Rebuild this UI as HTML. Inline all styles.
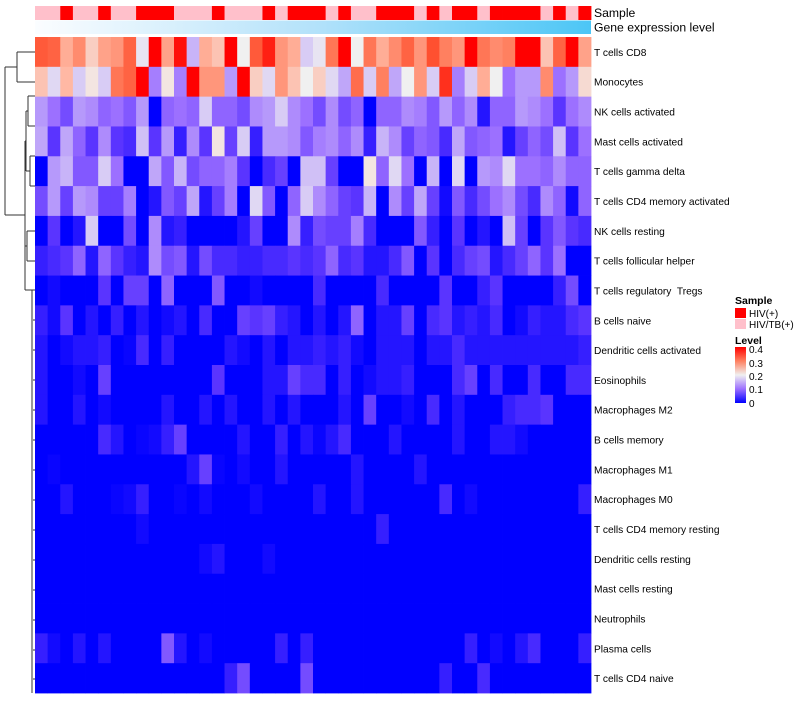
<!DOCTYPE html>
<html><head><meta charset="utf-8"><style>
body{margin:0;background:#fff;font-family:"Liberation Sans",sans-serif;}
svg text{font-family:"Liberation Sans",sans-serif;white-space:pre;}
</style></head><body>
<svg id="chart" width="800" height="700" xmlns="http://www.w3.org/2000/svg">
<defs><linearGradient id="geneGrad" x1="0" x2="1"><stop offset="0" stop-color="#fbfdff"/><stop offset="0.5" stop-color="#b4e2fa"/><stop offset="1" stop-color="#4cc6f6"/></linearGradient>
<linearGradient id="levelGrad" x1="0" y1="1" x2="0" y2="0"><stop offset="0" stop-color="#0000ff"/><stop offset="0.25" stop-color="#9c70ff"/><stop offset="0.5" stop-color="#f0f0f0"/><stop offset="0.75" stop-color="#ff8060"/><stop offset="1" stop-color="#ff0000"/></linearGradient></defs>
<g id="cells"></g>
<g id="anno"></g>
<rect x="35" y="20.5" width="556" height="13.5" fill="url(#geneGrad)"/>
<text x="594" y="17" font-size="12.2">Sample</text>
<text x="594" y="31.5" font-size="12.2">Gene expression level</text>
<g id="labels"></g>
<g stroke="#333" stroke-width="1" fill="none">
<path d="M5,67 V215 M5,67 H17 M17,52 V82 M17,52 H35 M17,82 H35 M5,215 H25"/>
<path d="M28,96 V126 M28,96 H35 M28,126 H35 M26,111 V171 M26,111 H28 M30,156 V186 M30,156 H35 M30,186 H35 M26,171 H30"/>
<path d="M25,141 V246 M25,141 H26 M25,246 H27 M27,231 V261 M27,231 H35 M27,261 H35"/>
<path d="M25,246 V290 M25,290 H32 M32,290 V693 M32,290 H35"/>
<path d="M33,320 H35 M33,350 H35 M33,380 H35 M33,410 H35 M33,440 H35 M33,470 H35 M33,500 H35 M33,530 H35 M33,560 H35 M33,590 H35 M33,620 H35 M33,650 H35 M33,679 H35"/>
</g>
<g>
<text x="735" y="304" font-size="10.5" font-weight="bold">Sample</text>
<rect x="735" y="308" width="11" height="10" fill="#ff0000"/>
<text x="749" y="317" font-size="10">HIV(+)</text>
<rect x="735" y="319" width="11" height="10" fill="#ffc0cb"/>
<text x="749" y="328" font-size="10">HIV/TB(+)</text>
<text x="735" y="344" font-size="10.5" font-weight="bold">Level</text>
<rect x="735" y="347" width="11" height="56" fill="url(#levelGrad)"/>
<g fill="#000" font-size="10">
<text x="749" y="353">0.4</text>
<text x="749" y="367">0.3</text>
<text x="749" y="380">0.2</text>
<text x="749" y="393">0.1</text>
<text x="749" y="407">0</text>
</g>
</g>
</svg>
<script>
const rowNames=["T cells CD8","Monocytes","NK cells activated","Mast cells activated","T cells gamma delta","T cells CD4 memory activated","NK cells resting","T cells follicular helper","T cells regulatory  Tregs","B cells naive","Dendritic cells activated","Eosinophils","Macrophages M2","B cells memory","Macrophages M1","Macrophages M0","T cells CD4 memory resting","Dendritic cells resting","Mast cells resting","Neutrophils","Plasma cells","T cells CD4 naive"];
const sampleGroup="PPRPPRPPRRRPPPRPPPRPRRRPRPPRRRPRPRRPRRRRPRPR".split("");
const z=n=>Array(n).fill(0);
const values=[
[.34,.33,.26,.29,.23,.27,.28,.33,.19,.4,.27,.39,.15,.26,.24,.4,.2,.34,.38,.28,.26,.17,.19,.31,.4,.2,.31,.26,.29,.33,.28,.35,.3,.28,.4,.31,.29,.3,.4,.4,.24,.33,.4,.27],
[.24,.18,.25,.17,.21,.17,.31,.33,.4,.11,.21,.11,.4,.28,.28,.13,.4,.23,.18,.28,.24,.2,.23,.18,.14,.32,.17,.3,.14,.2,.28,.17,.37,.11,.17,.26,.2,.1,.13,.13,.29,.1,.13,.22],
[.13,.1,.07,.13,.12,.09,.1,.08,.13,0,.09,.1,.09,.17,.09,.09,.07,.12,.13,.17,.12,.1,.07,.12,.07,.09,0,.09,.09,.12,.11,.08,.13,.09,.12,.02,.09,.09,.13,.12,.1,.05,.1,.12],
[.14,.05,.14,.09,.05,.12,.05,.04,.16,.05,.13,.03,.12,.05,.21,.06,.17,.03,.13,.13,.12,.08,.11,.12,.09,.12,.03,.15,.12,.06,.09,.08,.04,.14,.08,.09,.1,.02,.06,.09,.07,.16,.05,.1],
[0,.13,.15,.08,.08,.17,.1,0,0,.14,.08,.15,.07,.09,.09,.11,.05,0,.04,.06,0,.16,.16,.06,0,0,.21,.09,.18,.1,0,.15,0,.18,0,.13,.12,.18,.1,.1,.09,.12,.09,.09],
[.07,.13,.06,.13,.12,.06,.06,.11,0,.02,.08,.06,.14,.02,.06,.11,0,.18,.08,0,.09,.17,.12,.09,.06,.05,.15,0,.12,.06,.14,.06,.01,.08,.04,.07,.1,.12,.07,.04,.12,.09,.01,.09],
[0,.05,0,.02,.17,0,0,.07,0,.12,.02,.03,0,0,0,0,.02,.06,0,0,.12,.03,.07,.06,.06,.11,.04,0,0,0,.08,.03,0,.05,0,.02,0,.16,.06,0,.05,.08,.05,.04],
[.03,.04,.05,.09,.02,.09,.05,.03,.02,.12,.07,.08,.02,.07,.04,.04,.03,.03,.04,.04,.05,.04,.05,.09,.04,.05,.02,.02,.04,.08,0,.05,0,.04,.06,.07,.02,.04,.06,.09,.05,.1,0,0],
[0,.01,0,0,0,.05,0,.06,.06,0,.09,0,0,0,.08,0,0,.01,0,0,0,0,.04,0,0,0,0,.04,0,0,0,0,.05,0,0,.03,.05,0,0,0,0,.03,.07,0],
[.03,.01,.05,0,.02,0,.03,0,.02,0,.01,.02,0,.04,0,0,.06,.05,.06,.03,.02,0,.02,0,.02,.09,0,.02,.02,.06,0,.04,.05,.02,.03,.02,.04,0,.01,.03,.02,.02,.04,.05],
[.02,0,.01,.02,.02,.03,0,.005,.04,0,.03,0,0,0,0,.02,.01,0,.02,0,.02,.02,.03,.02,.03,.01,0,.02,.02,.02,0,.02,.02,.04,.02,.02,.02,.02,.02,.02,.02,.02,.02,.03],
[.02,0,0,.01,0,.06,0,0,0,0,0,0,0,0,.05,0,0,0,.02,.02,.06,.04,.04,0,.03,0,.01,.02,.02,.03,0,0,0,.04,.06,0,.04,0,0,.04,0,0,.04,.04],
[.02,0,0,.02,0,.01,0,0,0,0,.02,0,0,.02,0,.02,0,0,.02,0,.02,0,0,0,.02,0,.06,0,0,.01,0,.04,0,.02,0,0,0,.03,.04,.04,.05,0,0,0],
[0,0,0,0,0,.04,.02,0,.005,.01,.03,.06,0,0,0,0,.02,0,0,.03,0,.02,.005,.02,.04,0,0,0,.02,0,0,0,0,.02,0,0,.02,.02,.01,0,0,0,0,0],
[0,.005,0,0,0,0,0,0,0,0,0,0,.02,.06,.005,0,.01,0,0,.02,0,0,0,0,0,.02,0,0,0,0,.02,0,0,0,0,0,0,0,0,0,0,0,0,0],
[0,0,.02,0,0,0,.005,.01,.03,0,0,.005,0,.01,0,0,0,.01,0,0,0,0,.02,0,0,.02,0,0,0,0,0,0,.04,0,.01,0,0,0,0,0,0,0,0,.03],
[0,0,0,0,0,0,0,0,.01,0,0,0,0,0,0,0,0,0,0,0,0,0,0,0,0,0,0,.03,0,0,0,0,0,0,0,0,0,0,0,0,0,0,0,0],
[0,0,0,0,0,0,0,0,0,0,0,0,0,.01,.02,0,0,0,.01,0,0,0,0,0,0,0,0,0,0,0,0,0,0,0,0,0,0,0,0,0,0,0,0,0],
z(44),
z(44),
[.03,.01,0,.02,0,.02,0,0,0,0,.08,.02,0,.01,0,0,0,0,0,.03,0,.03,0,0,0,0,0,0,0,0,0,0,0,0,.03,0,.01,0,.02,.04,0,0,0,.03],
[0,0,0,0,0,0,0,0,0,0,0,0,0,0,0,.03,.07,0,0,0,0,.07,0,0,0,0,0,0,0,0,0,0,.03,0,0,.04,0,0,0,0,0,0,0,0]
];
const X0=35,W=556,Y0=37,H=656;
const nCol=values[0].length,nRow=values.length;
const xScale=i=>X0+i*W/nCol, yScale=r=>Y0+r*H/nRow;
const stops=[[0,[0,0,255]],[.05,[90,52,255]],[.1,[156,112,255]],[.15,[200,180,248]],[.2,[240,240,240]],[.25,[255,184,164]],[.3,[255,128,96]],[.35,[255,80,48]],[.4,[255,0,0]]];
function col(v){v=Math.max(0,Math.min(.4,v));for(let i=1;i<stops.length;i++){if(v<=stops[i][0]){const a=stops[i-1],b=stops[i],t=(v-a[0])/(b[0]-a[0]);return 'rgb('+a[1].map((c,k)=>Math.round(c+(b[1][k]-c)*t)).join(',')+')';}}return 'rgb(255,0,0)';}
const NS="http://www.w3.org/2000/svg";
const cg=document.getElementById('cells');
values.forEach((row,r)=>row.forEach((v,c)=>{const e=document.createElementNS(NS,'rect');


e.setAttribute('x',xScale(c));e.setAttribute('y',yScale(r));e.setAttribute('width',W/nCol+0.4);e.setAttribute('height',H/nRow+0.4);e.setAttribute('fill',col(v));cg.appendChild(e);}));
const ag=document.getElementById('anno');
sampleGroup.forEach((s,c)=>{const e=document.createElementNS(NS,'rect');


e.setAttribute('x',xScale(c));e.setAttribute('y',6);e.setAttribute('width',W/nCol+0.4);e.setAttribute('height',14);e.setAttribute('fill',s==='R'?'#ff0000':'#ffc0cb');ag.appendChild(e);});
const lg=document.getElementById('labels');
rowNames.forEach((n,r)=>{const t=document.createElementNS(NS,'text');


t.setAttribute('x',594);t.setAttribute('y',yScale(r)+H/nRow/2+4);t.setAttribute('font-size','10.2');t.textContent=n;lg.appendChild(t);});
</script>
</body></html>
